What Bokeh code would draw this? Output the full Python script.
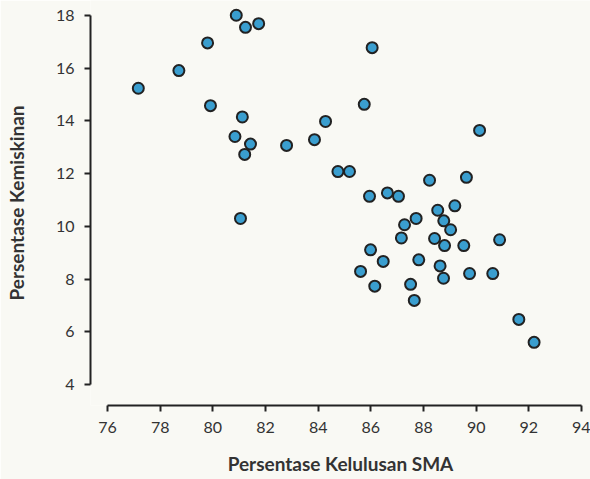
from bokeh.plotting import figure
from bokeh.models import ColumnDataSource, Range1d, LinearAxis, FixedTicker
from bokeh.embed import file_html
from bokeh.resources import INLINE

# Data
kelulusan_sma = [77.17, 78.71, 79.80, 80.89, 81.24, 81.74, 79.91, 81.12, 80.84, 81.43,
                 81.21, 82.80, 81.05, 86.05, 85.75, 84.28, 83.86, 84.75, 85.19, 90.13,
                 85.95, 86.63, 87.05, 88.23, 89.63, 87.72, 87.28, 88.54, 89.19, 88.77,
                 89.03, 87.16, 88.42, 88.80, 89.53, 90.89, 85.99, 86.47, 87.82, 85.61,
                 88.63, 88.76, 89.75, 90.63, 86.15, 87.51, 87.65, 91.62, 92.20]
kemiskinan = [15.24, 15.91, 16.96, 18.01, 17.55, 17.69, 14.58, 14.15, 13.41, 13.12,
              12.73, 13.07, 10.30, 16.78, 14.63, 13.98, 13.29, 12.08, 12.08, 13.64,
              11.14, 11.27, 11.14, 11.75, 11.86, 10.30, 10.06, 10.61, 10.78, 10.21,
              9.87, 9.56, 9.54, 9.27, 9.27, 9.49, 9.11, 8.67, 8.73, 8.29,
              8.50, 8.03, 8.21, 8.21, 7.73, 7.80, 7.19, 6.47, 5.60]
x_ticks = [76, 78, 80, 82, 84, 86, 88, 90, 92, 94]
y_ticks = [4, 6, 8, 10, 12, 14, 16, 18]
x_title = "Persentase Kelulusan SMA"
y_title = "Persentase Kemiskinan"

BG = "#f9f9f4"
INK = "#333333"
AXIS = "#222222"
FONT = "Lato"

source = ColumnDataSource(data=dict(x=kelulusan_sma, y=kemiskinan))

p = figure(width=590, height=479, output_backend="svg", toolbar_location=None,
           x_axis_type=None, y_axis_type=None,
           x_range=Range1d(75.354, 94.342), y_range=Range1d(3.203, 18.569),
           min_border_left=90, min_border_right=0, min_border_top=0, min_border_bottom=74)
p.background_fill_color = BG
p.border_fill_color = BG
p.outline_line_color = None

xaxis = LinearAxis(ticker=FixedTicker(ticks=x_ticks), bounds=(x_ticks[0], x_ticks[-1]),
                   axis_label=x_title)
yaxis = LinearAxis(ticker=FixedTicker(ticks=y_ticks), bounds=(y_ticks[0], y_ticks[-1]),
                   axis_label=y_title)
for ax in (xaxis, yaxis):
    ax.axis_line_color = AXIS
    ax.axis_line_width = 2
    ax.major_tick_line_color = AXIS
    ax.major_tick_line_width = 2
    ax.major_tick_out = 6
    ax.major_tick_in = 0
    ax.minor_tick_line_color = None
    ax.major_label_text_font = FONT
    ax.major_label_text_font_size = "16px"
    ax.major_label_text_color = INK
    ax.major_label_standoff = 10
    ax.axis_label_text_font = FONT
    ax.axis_label_text_font_size = "19px"
    ax.axis_label_text_font_style = "bold"
    ax.axis_label_text_color = INK
xaxis.axis_label_standoff = 16
yaxis.axis_label_standoff = 25
p.add_layout(xaxis, "below")
p.add_layout(yaxis, "left")

p.xgrid.visible = False
p.ygrid.visible = False

p.scatter("x", "y", source=source, size=11, fill_color="#3a9ecf",
          line_color=AXIS, line_width=2)

open("out.html", "w").write(file_html(p, INLINE))
